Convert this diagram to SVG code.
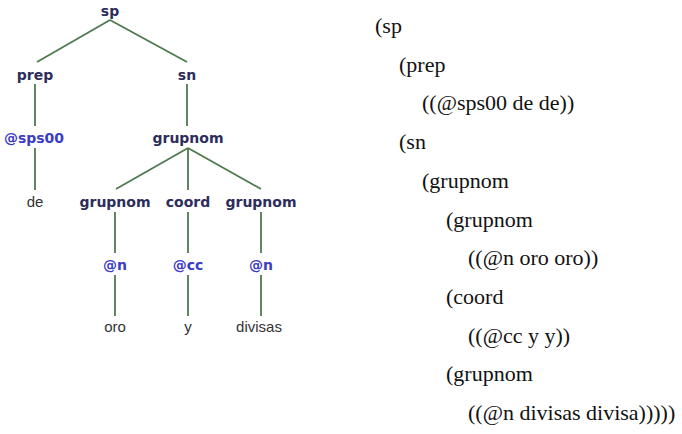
<svg xmlns="http://www.w3.org/2000/svg" width="682" height="434" viewBox="0 0 682 434">
<style>
.n{font-family:"DejaVu Sans",Verdana,sans-serif;font-weight:bold;font-size:14px;fill:#2d2d5c;text-anchor:middle}
.a{font-family:"DejaVu Sans",Verdana,sans-serif;font-weight:bold;font-size:14px;fill:#3c3cc4;text-anchor:middle}
.w{font-family:"Liberation Sans",Arial,sans-serif;font-size:15px;fill:#333;text-anchor:middle}
.e{stroke:#4e7a4e;stroke-width:1.8;fill:none}
.t{font-family:"Liberation Serif","Times New Roman",serif;font-size:22px;fill:#111}
</style>
<rect width="682" height="434" fill="#fff"/>
<g id="connectors">
<line class="e" x1="110" y1="20" x2="37" y2="62"/>
<line class="e" x1="110" y1="20" x2="187" y2="62"/>
<line class="e" x1="35" y1="84" x2="35" y2="126"/>
<line class="e" x1="187" y1="84" x2="187" y2="126"/>
<line class="e" x1="35" y1="148" x2="35" y2="190"/>
<line class="e" x1="188" y1="148" x2="116" y2="189"/>
<line class="e" x1="188" y1="148" x2="188" y2="190"/>
<line class="e" x1="188" y1="148" x2="261" y2="189"/>
<line class="e" x1="115" y1="212" x2="115" y2="253"/>
<line class="e" x1="188" y1="212" x2="188" y2="253"/>
<line class="e" x1="261" y1="212" x2="261" y2="253"/>
<line class="e" x1="115" y1="275" x2="115" y2="316"/>
<line class="e" x1="188" y1="275" x2="188" y2="316"/>
<line class="e" x1="261" y1="275" x2="261" y2="316"/>
</g>
<g id="n-sp"><text class="n" x="110" y="16">sp</text></g>
<g id="n-prep"><text class="n" x="35" y="80">prep</text></g>
<g id="n-sn"><text class="n" x="187" y="80">sn</text></g>
<g id="n-sps00"><text class="a" x="34" y="143">@sps00</text></g>
<g id="n-de"><text class="w" x="35" y="207">de</text></g>
<g id="n-grupnom"><text class="n" x="188" y="143">grupnom</text></g>
<g id="n-grupnom1"><text class="n" x="115" y="207">grupnom</text></g>
<g id="n-coord"><text class="n" x="188" y="207">coord</text></g>
<g id="n-grupnom2"><text class="n" x="261" y="207">grupnom</text></g>
<g id="n-n1"><text class="a" x="115" y="270">@n</text></g>
<g id="n-cc"><text class="a" x="188" y="270">@cc</text></g>
<g id="n-n2"><text class="a" x="261" y="270">@n</text></g>
<g id="n-oro"><text class="w" x="115" y="332">oro</text></g>
<g id="n-y"><text class="w" x="188" y="332">y</text></g>
<g id="n-divisas"><text class="w" x="259" y="332">divisas</text></g>
<g id="bracketed">
<text class="t" x="375" y="33">(sp</text>
<text class="t" x="399" y="71.7">(prep</text>
<text class="t" x="422" y="110.4">((@sps00 de de))</text>
<text class="t" x="399" y="149.1">(sn</text>
<text class="t" x="422" y="187.8">(grupnom</text>
<text class="t" x="446" y="226.5">(grupnom</text>
<text class="t" x="468" y="265.2">((@n oro oro))</text>
<text class="t" x="446" y="303.9">(coord</text>
<text class="t" x="468" y="342.6">((@cc y y))</text>
<text class="t" x="446" y="381.3">(grupnom</text>
<text class="t" x="468" y="420">((@n divisas divisa)))))</text>
</g>
</svg>
